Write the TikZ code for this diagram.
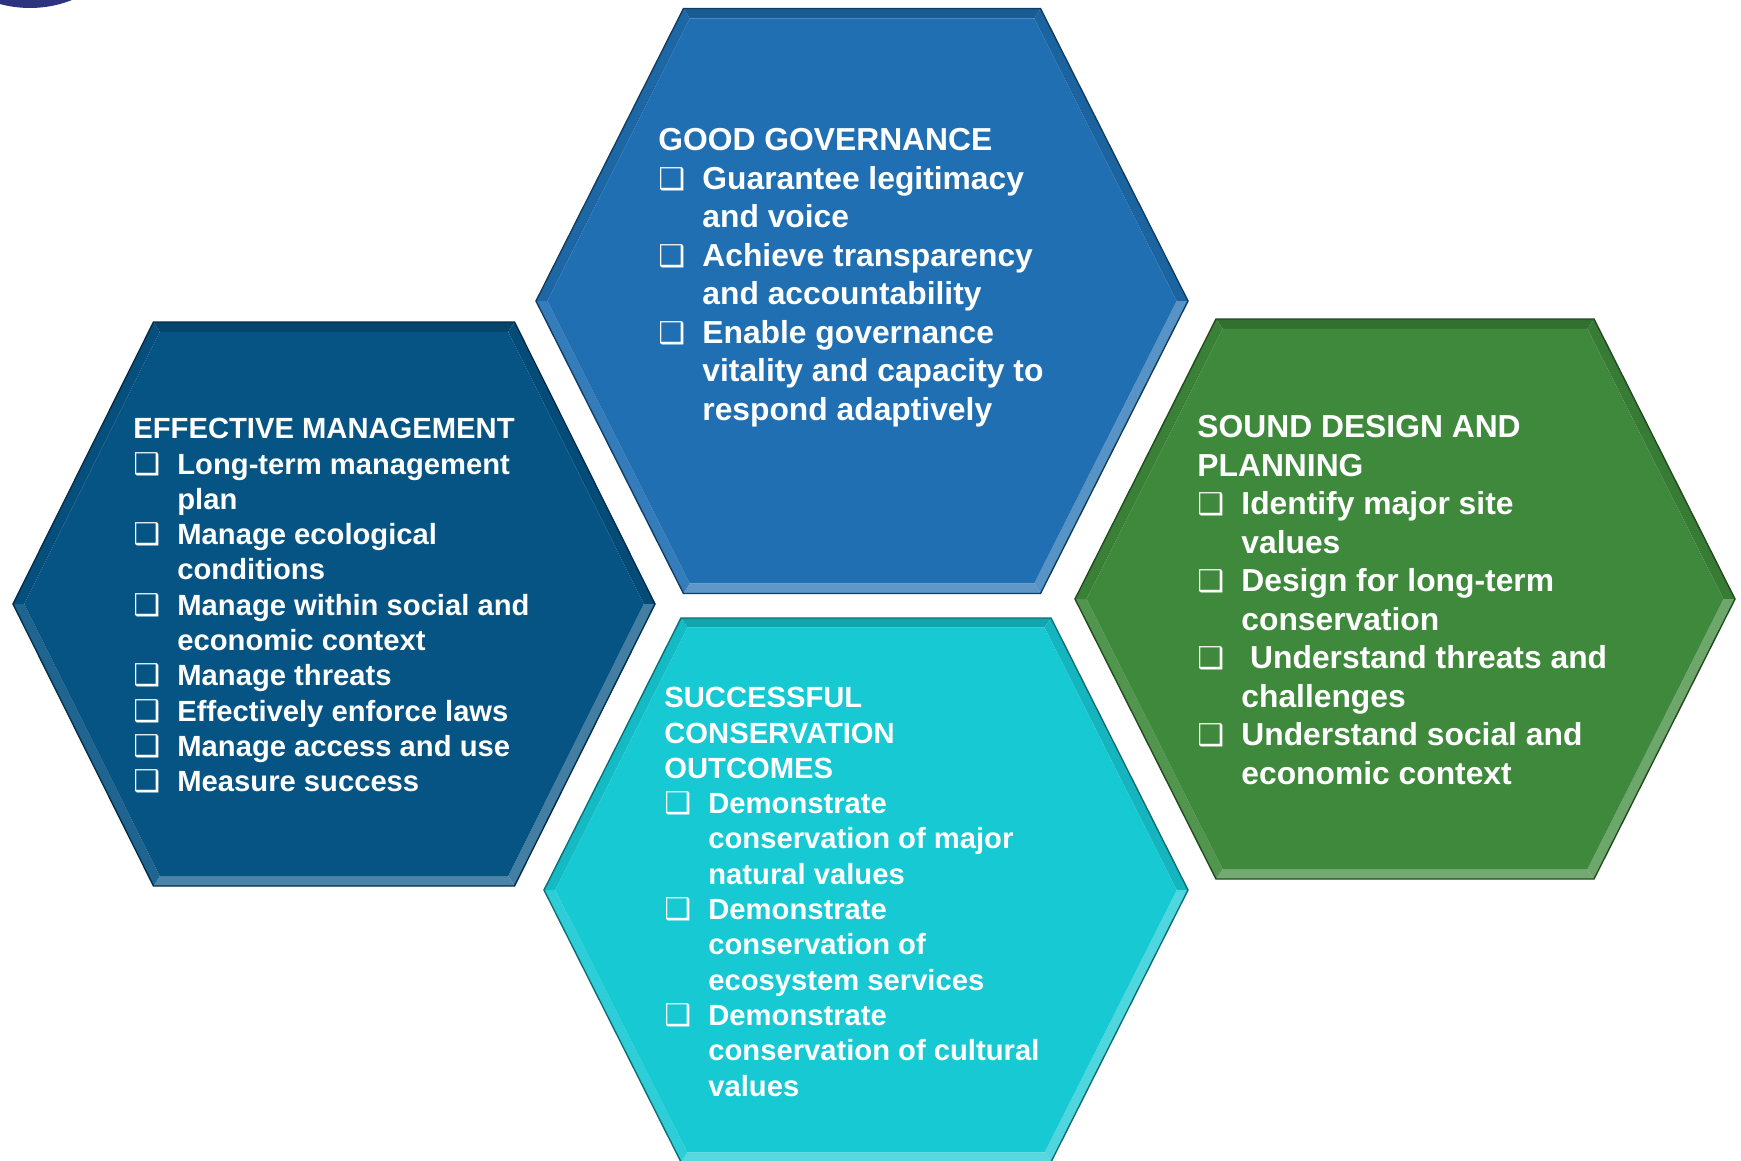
\documentclass[tikz,border=0pt]{standalone}
\usepackage{fontspec}
\setmainfont{Liberation Sans}
\newfontfamily\dingfont{DejaVu Sans}
\usepackage{tikz}
\usetikzlibrary{calc,positioning}

\definecolor{govblue}{RGB}{31,111,178}
\definecolor{mgtblue}{RGB}{6,84,132}
\definecolor{conscyan}{RGB}{22,201,211}
\definecolor{plangreen}{RGB}{62,137,59}
\definecolor{navyring}{RGB}{44,52,128}

% bullet box and hanging indent
\newcommand{\bul}{\makebox[22pt][l]{\dingfont\fontsize{15}{15}\selectfont ❑}}
\newcommand{\ind}{\hspace*{22pt}}

% bevelled hexagon: name, cx, cy, half width, half top, half height, colour
\newcommand{\hexcell}[7]{%
  \coordinate (#1) at (#2,#3);
  \coordinate (#1-a) at ($(#1)+(-#5,-#6)$);
  \coordinate (#1-b) at ($(#1)+(#5,-#6)$);
  \coordinate (#1-c) at ($(#1)+(#4,0)$);
  \coordinate (#1-d) at ($(#1)+(#5,#6)$);
  \coordinate (#1-e) at ($(#1)+(-#5,#6)$);
  \coordinate (#1-f) at ($(#1)+(-#4,0)$);
  \foreach \v in {a,b,c,d,e,f} {\coordinate (#1-i\v) at ($(#1)!0.965!(#1-\v)$);}
  \fill[#7!82!black] (#1-a) -- (#1-b) -- (#1-ib) -- (#1-ia) -- cycle;
  \fill[#7!90!black] (#1-b) -- (#1-c) -- (#1-ic) -- (#1-ib) -- cycle;
  \fill[#7!75!white] (#1-c) -- (#1-d) -- (#1-id) -- (#1-ic) -- cycle;
  \fill[#7!72!white] (#1-d) -- (#1-e) -- (#1-ie) -- (#1-id) -- cycle;
  \fill[#7!90!white] (#1-e) -- (#1-f) -- (#1-if) -- (#1-ie) -- cycle;
  \fill[#7!93!black] (#1-f) -- (#1-a) -- (#1-ia) -- (#1-if) -- cycle;
  \fill[#7] (#1-ia) -- (#1-ib) -- (#1-ic) -- (#1-id) -- (#1-ie) -- (#1-if) -- cycle;
  \draw[#7!55!black, line width=0.7pt] (#1-a) -- (#1-b) -- (#1-c) -- (#1-d) -- (#1-e) -- (#1-f) -- cycle;
}

\begin{document}
\begin{tikzpicture}[x=0.5pt,y=-0.5pt,
    hextext/.style={text=white,align=left,anchor=north west,inner sep=0pt},
    bigtext/.style={hextext,font=\bfseries\fontsize{15.9}{19.25}\selectfont},
    smalltext/.style={hextext,font=\bfseries\fontsize{14.6}{17.65}\selectfont}]
	\useasboundingbox (0,0) rectangle (1741,1161);
	\fill[navyring] (30,-106) circle[radius=57pt];

	\hexcell{gov}{862}{301}{326}{178.5}{292.5}{govblue}
	\hexcell{mgt}{334}{604}{321}{180.5}{282}{mgtblue}
	\hexcell{cons}{866}{890}{322}{185}{272}{conscyan}
	\hexcell{plan}{1405}{599}{330}{189}{280}{plangreen}

	\node [bigtext] (gov-txt) at (658,128) {GOOD GOVERNANCE\\
		\bul Guarantee legitimacy\\ \ind and voice\\
		\bul Achieve transparency\\ \ind and accountability\\
		\bul Enable governance\\ \ind vitality and capacity to\\ \ind respond adaptively};
	\node [smalltext] (mgt-txt) at (133,418) {EFFECTIVE MANAGEMENT\\
		\bul Long-term management\\ \ind plan\\
		\bul Manage ecological\\ \ind conditions\\
		\bul Manage within social and\\ \ind economic context\\
		\bul Manage threats\\
		\bul Effectively enforce laws\\
		\bul Manage access and use\\
		\bul Measure success};
	\node [smalltext] (cons-txt) at (664,687) {SUCCESSFUL\\ CONSERVATION\\ OUTCOMES\\
		\bul Demonstrate\\ \ind conservation of major\\ \ind natural values\\
		\bul Demonstrate\\ \ind conservation of\\ \ind ecosystem services\\
		\bul Demonstrate\\ \ind conservation of cultural\\ \ind values};
	\node [bigtext] (plan-txt) at (1197,415) {SOUND DESIGN AND\\ PLANNING\\
		\bul Identify major site\\ \ind values\\
		\bul Design for long-term\\ \ind conservation\\
		\bul \ Understand threats and\\ \ind challenges\\
		\bul Understand social and\\ \ind economic context};
\end{tikzpicture}
\end{document}
